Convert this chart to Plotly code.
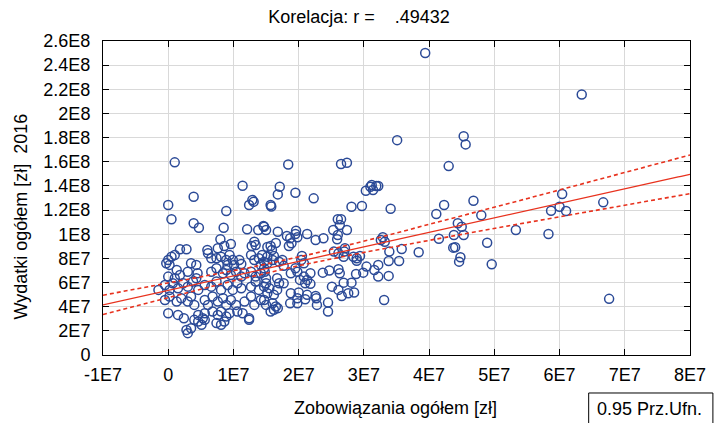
import numpy as np
import plotly.graph_objects as go

# Zobowiązania ogółem (x) and Wydatki ogółem 2016 (y), in millions of zł
x_mln = [
    39.4, 63.4, 45.3, 45.6, 35.1, 60.4, 60.0, 58.7, 61.0, 66.7, 53.3, 58.3, 67.6, 43.0, 32.2, 34.1,
    42.3, 41.1, 46.8, 48.0, 44.4, 45.0, 43.8, 45.3, 41.5, 48.9, 43.7, 44.0, 44.8, 44.6, 49.6, 32.9,
    32.6, 33.2, 33.9, 35.8, 38.4, 33.8, 35.4, 32.2, 32.2, 33.8, 33.1,
    18.4, 26.5, 27.4, 17.1, 16.8, 19.5, 15.7, 15.8, 22.3, 30.3, 31.0, 31.4, 31.9, 31.2, 28.1, 29.7,
    15.0, 16.8, 19.6, 19.5, 18.2, 18.7, 19.8, 21.3, 22.6, 23.8, 26.0, 26.5, 26.3, 25.3, 27.4, 26.0,
    25.9, 14.7,
    1.0, 11.4, 3.9, 0.0, 12.9, 13.1, 12.4, 8.9, 0.5, 3.9, 4.7, 8.5, 12.1, 13.8, 14.6, 8.0, 9.6,
    13.2, 13.4, 12.8, 1.8, 2.8, 6.0, 7.6, 8.6, 15.7,
    18.5, 18.9, 27.1, 27.0, 25.4, 28.4, 28.9, 29.4, 28.9, 30.4, 31.6, 14.7, 14.8, 16.2, 16.0, 17.0,
    17.5, 17.7, 15.2, 19.5, 19.8, 18.8, 20.5, 20.4, 20.8, 21.8, 20.8, 21.3, 21.0, 21.8, 23.7, 24.7,
    26.1, 26.3, 28.8, 29.9, 25.1, 26.1, 26.9, 28.1, 26.6, 27.6, 28.5, 15.0, 15.2, 16.2, 16.7, 17.0,
    16.7, 17.7, 16.0, 16.5, 16.2, 16.8, 15.7, 18.7, 19.8, 18.8, 20.0, 19.8, 22.6, 22.7, 21.3, 21.0,
    22.8, 24.5, 24.5, 14.7, 14.7, 20.2, 26.9, 26.1, 15.2, 15.9, 16.5,
    14.4, 0.0, 0.5, 0.2, 1.0, -0.3, 3.5, 4.3, 7.4, 8.1, 8.9, 9.4, 9.9, 9.1, 10.1, 10.9, 11.2, 12.7,
    13.2, 13.9, 14.7, 15.2, 14.2, 6.1, 6.6,
    0.0, 1.3, 1.8, 1.0, 3.0, 4.5, 4.3, 6.6, 7.4, 8.4, 8.9, 9.6, 10.4, 11.2, 11.7, 12.7, 13.4, 14.2,
    15.0,
    -1.5, -0.5, 0.2, 0.7, 1.5, 2.3, 3.0, 3.8, 4.6, 5.6, 6.6, 7.4, 8.1, 9.1, 9.9, 10.6, 11.2, 12.7,
    13.4, 13.9, 15.5,
    -0.5, 0.2, 1.3, 2.0, 3.0, 3.5, 4.0, 5.6, 6.1, 6.8, 7.6, 8.4, 8.9, 9.6, 10.4, 11.7, 12.7, 13.2,
    14.2, 15.0,
    0.0, 1.5, 2.4, 4.0, 4.6, 5.3, 5.6, 6.8, 7.6, 8.1, 8.9, 9.4, 10.6, 11.4, 12.4,
    4.6, 5.1, 5.6, 7.4, 8.1, 8.6, 2.8, 3.5, 3.0, 12.4,
]
y_mln = [
    250.1, 215.7, 181.2, 174.4, 177.9, 133.3, 122.8, 119.5, 119.2, 126.4, 103.5, 100.2, 46.5, 156.4, 139.9, 121.1,
    124.2, 116.7, 127.7, 115.7, 109.1, 106.2, 99.4, 99.4, 96.3, 93.0, 88.9, 89.2, 80.9, 77.3, 75.2, 97.5,
    95.2, 93.8, 85.6, 87.8, 85.1, 77.9, 77.9, 74.6, 64.9, 65.5, 45.6,
    157.8, 158.1, 159.2, 139.3, 133.0, 134.4, 124.2, 122.9, 129.7, 136.0, 139.3, 136.6, 139.9, 140.7, 122.8, 123.4,
    103.5, 102.1, 102.9, 100.2, 98.6, 96.7, 97.5, 100.2, 95.2, 96.7, 112.4, 112.4, 107.6, 103.5, 103.5, 99.4,
    95.8, 106.2,
    159.5, 140.1, 131.0, 124.2, 128.3, 126.9, 124.2, 119.2, 112.4, 109.1, 105.4, 105.4, 104.1, 103.5, 106.8, 95.8, 91.9,
    93.8, 91.1, 90.3, 87.6, 87.6, 87.0, 88.4, 90.3, 90.3,
    90.3, 92.5, 88.4, 85.6, 85.6, 81.4, 80.1, 82.0, 78.1, 73.2, 70.4, 71.8, 69.0, 82.0, 78.7, 77.3,
    78.7, 73.8, 76.0, 71.8, 69.0, 67.7, 82.0, 78.7, 76.0, 67.7, 64.9, 62.2, 59.4, 58.9, 68.2, 69.9,
    71.0, 67.7, 67.1, 68.2, 56.6, 53.9, 59.9, 59.9, 48.9, 51.2, 51.7, 59.4, 51.2, 49.8, 53.9, 59.4,
    63.6, 59.4, 42.9, 40.1, 37.4, 38.8, 36.0, 42.9, 42.9, 51.2, 51.7, 47.0, 48.9, 47.0, 49.8, 46.2,
    41.5, 43.4, 36.0, 56.6, 45.6, 62.2, 81.4, 84.3, 89.5, 87.0, 92.8,
    82.8, 78.7, 81.4, 74.6, 82.8, 76.0, 76.0, 74.6, 80.1, 81.4, 78.7, 82.8, 78.7, 74.6, 74.6, 78.7, 75.4, 82.8,
    78.7, 80.1, 77.3, 81.4, 74.6, 84.3, 80.1,
    64.9, 70.4, 66.3, 63.6, 69.0, 67.7, 63.6, 69.0, 71.8, 67.7, 70.4, 66.3, 69.0, 64.9, 67.7, 69.0, 64.9, 67.7,
    63.6,
    53.9, 58.0, 53.9, 59.4, 55.3, 59.4, 56.6, 60.8, 53.9, 58.0, 56.6, 60.8, 53.9, 58.0, 53.9, 59.4, 55.3, 56.6,
    60.8, 53.9, 55.3,
    45.6, 48.4, 44.2, 47.0, 44.2, 48.4, 41.5, 45.6, 41.5, 48.4, 44.2, 47.0, 41.5, 45.6, 41.5, 44.2, 48.4, 41.5,
    45.6, 41.5,
    34.6, 33.2, 30.5, 29.1, 33.2, 30.5, 34.6, 36.0, 33.2, 36.0, 31.8, 34.6, 36.0, 34.6, 30.5,
    27.7, 25.0, 29.1, 26.4, 25.0, 27.7, 20.8, 22.2, 18.1, 29.1,
]

# regression line (value at x = -1E7 and at x = 8E7), in millions of zł
fit_at_left_mln = 41.5
fit_at_right_mln = 149.6
r_value = ".49432"
conf_level = 0.95
t_crit = 1.968

x_tick_vals = [-1e7, 0, 1e7, 2e7, 3e7, 4e7, 5e7, 6e7, 7e7, 8e7]
x_tick_text = ["-1E7", "0", "1E7", "2E7", "3E7", "4E7", "5E7", "6E7", "7E7", "8E7"]
y_tick_vals = [0, 2e7, 4e7, 6e7, 8e7, 1e8, 1.2e8, 1.4e8, 1.6e8, 1.8e8, 2e8, 2.2e8, 2.4e8, 2.6e8]
y_tick_text = ["0", "2E7", "4E7", "6E7", "8E7", "1E8", "1.2E8", "1.4E8", "1.6E8", "1.8E8",
               "2E8", "2.2E8", "2.4E8", "2.6E8"]

x = np.array(x_mln) * 1e6
y = np.array(y_mln) * 1e6

x_lo, x_hi = -1e7, 8e7
slope = (fit_at_right_mln - fit_at_left_mln) * 1e6 / (x_hi - x_lo)
intercept = fit_at_left_mln * 1e6 - slope * x_lo

# 95% confidence band of the regression line
n = len(x)
resid = y - (slope * x + intercept)
s = np.sqrt(np.sum(resid ** 2) / (n - 2))
xbar = x.mean()
sxx = np.sum((x - xbar) ** 2)
xg = np.linspace(x_lo, x_hi, 200)
yg = slope * xg + intercept
se = s * np.sqrt(1.0 / n + (xg - xbar) ** 2 / sxx)
upper = yg + t_crit * se
lower = yg - t_crit * se

FONT = "Liberation Sans, Arial, sans-serif"
FS = 18
BLUE = "#2B4A97"
RED = "#E8321E"

fig = go.Figure()
fig.add_trace(go.Scatter(
    x=x, y=y, mode="markers",
    marker=dict(symbol="circle-open", size=9, color=BLUE, line=dict(width=1.5, color=BLUE)),
    showlegend=False, hoverinfo="skip"))
fig.add_trace(go.Scatter(x=xg, y=yg, mode="lines", line=dict(color=RED, width=1.3),
                         showlegend=False, hoverinfo="skip"))
for band in (upper, lower):
    fig.add_trace(go.Scatter(x=xg, y=band, mode="lines",
                             line=dict(color=RED, width=1.6, dash="4px,3px"),
                             showlegend=False, hoverinfo="skip"))

axis_common = dict(
    showline=True, linecolor="black", linewidth=1, mirror="ticks",
    ticks="inside", ticklen=6, tickcolor="black", tickwidth=1,
    showgrid=True, gridcolor="#d9d9d9", gridwidth=1, zeroline=False,
    tickfont=dict(family=FONT, size=FS, color="black"),
)
fig.update_xaxes(range=[x_lo, x_hi], tickvals=x_tick_vals, ticktext=x_tick_text,
                 ticklabelstandoff=3, **axis_common)
fig.update_yaxes(range=[0, 2.6e8], tickvals=y_tick_vals, ticktext=y_tick_text,
                 ticklabelstandoff=8, **axis_common)

fig.update_layout(
    width=718, height=423,
    margin=dict(l=103, r=24, t=41, b=68),
    paper_bgcolor="white", plot_bgcolor="white",
    font=dict(family=FONT, size=FS, color="black"),
    title=dict(text="Korelacja: r =\u00a0\u00a0\u00a0\u00a0" + r_value, x=0.5, xanchor="center",
               xref="container", yref="container", y=0.9605, yanchor="middle",
               font=dict(family=FONT, size=FS)),
    annotations=[
        dict(text="Wydatki ogółem [zł]\u00a0\u00a02016", textangle=-90, xref="paper", yref="paper",
             x=-0.1404, y=0.4395, xanchor="center", yanchor="middle", showarrow=False,
             font=dict(family=FONT, size=FS)),
        dict(text="Zobowiązania ogółem [zł]", xref="paper", yref="paper",
             x=0.499, y=-0.169, xanchor="center", yanchor="middle", showarrow=False,
             font=dict(family=FONT, size=FS)),
        dict(text=f"{conf_level:.2f} Prz.Ufn.", xref="paper", yref="paper",
             x=0.8376, y=-0.172, xanchor="left", yanchor="middle", showarrow=False,
             font=dict(family=FONT, size=FS)),
    ],
    shapes=[dict(type="rect", xref="paper", yref="paper", x0=0.8274, x1=1.039,
                 y0=-0.2197, y1=-0.121, line=dict(color="black", width=1))],
)

fig.write_html("out.html", config={"displayModeBar": False},
               post_script="document.body.style.margin='0px';")
